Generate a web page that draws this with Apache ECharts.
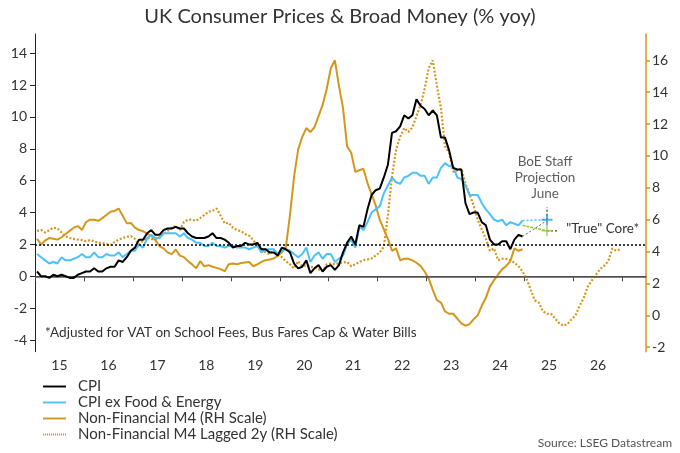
<!DOCTYPE html>
<html>
<head>
<meta charset="utf-8">
<script src="https://cdn.jsdelivr.net/npm/echarts@6/dist/echarts.min.js"></script>
<style>html,body{margin:0;padding:0;background:#fff}#c{width:680px;height:453px}</style>
</head>
<body>
<div id="c"></div>
<script>
// ---- DATA (monthly, % yoy) ----
// CPI, Jan 2015 - Dec 2024
const cpi = [
 0.3,0.0,0.0,-0.1,0.1,0.0,0.1,0.0,-0.1,-0.1,0.1,0.2,
 0.3,0.3,0.5,0.3,0.3,0.5,0.6,0.6,1.0,0.9,1.2,1.6,
 1.8,2.3,2.3,2.7,2.9,2.6,2.6,2.9,3.0,3.0,3.1,3.0,
 3.0,2.7,2.5,2.4,2.4,2.4,2.5,2.7,2.4,2.4,2.3,2.1,
 1.8,1.9,1.9,2.1,2.0,2.0,2.1,1.7,1.7,1.5,1.5,1.3,
 1.8,1.7,1.5,0.8,0.5,0.6,1.0,0.2,0.5,0.7,0.3,0.6,
 0.7,0.4,0.7,1.5,2.1,2.5,2.0,3.2,3.1,4.2,5.1,5.4,
 5.5,6.2,7.0,9.0,9.1,9.4,10.1,9.9,10.1,11.1,10.7,10.5,
 10.1,10.4,10.1,8.7,8.7,7.9,6.8,6.7,6.7,4.6,3.9,4.0,
 4.0,3.4,3.2,2.3,2.0,2.0,2.2,2.2,1.7,2.3,2.6,2.5
];
// CPI ex Food & Energy, Jan 2015 - Dec 2024
const cpiCore = [
 1.4,1.2,1.0,0.8,0.9,0.8,1.2,1.0,1.0,1.1,1.2,1.4,
 1.2,1.2,1.5,1.2,1.2,1.4,1.3,1.3,1.5,1.2,1.4,1.6,
 1.6,2.0,1.8,2.4,2.6,2.4,2.4,2.7,2.7,2.7,2.7,2.5,
 2.7,2.4,2.3,2.1,2.1,1.9,1.9,2.1,1.9,1.9,1.8,1.9,
 1.9,1.8,1.8,1.8,1.7,1.8,1.9,1.5,1.7,1.7,1.7,1.4,
 1.6,1.7,1.6,1.4,1.2,1.4,1.8,0.9,1.3,1.5,1.1,1.4,
 1.4,0.9,1.1,1.3,2.0,2.3,1.8,3.1,2.9,3.4,4.0,4.2,
 4.4,5.2,5.7,6.2,5.9,5.8,6.2,6.3,6.5,6.5,6.3,6.3,
 5.8,6.2,6.2,6.8,7.1,6.9,6.9,6.2,6.1,5.7,5.1,5.1,
 5.1,4.6,4.2,3.9,3.55,3.45,3.55,3.2,3.4,3.3,3.2,3.5
];
// Non-Financial M4, Jan 2013 - Dec 2014 (visible only through the 2y lag)
const m4Early = [
 5.3,5.35,5.2,5.35,5.5,5.45,5.2,4.95,4.85,4.8,4.75,4.72,
 4.65,4.72,4.65,4.55,4.55,4.47,4.42,4.6,4.75,4.85,4.93,4.97
];
// Non-Financial M4, Jan 2015 - Dec 2024
const m4 = [
 4.8,4.45,4.7,4.85,4.8,4.75,4.9,5.1,5.3,5.5,5.6,5.35,
 5.85,6.0,6.0,5.93,6.1,6.3,6.5,6.55,6.7,6.25,5.77,5.8,
 5.5,5.35,5.28,5.1,5.0,4.72,4.35,4.2,3.95,3.84,4.13,3.75,
 3.65,3.4,3.2,2.95,3.4,3.08,3.15,3.05,2.98,2.9,2.77,3.2,
 3.25,3.2,3.28,3.32,3.35,3.08,3.2,3.35,3.46,3.5,3.57,3.75,
 3.95,4.3,6.3,8.7,10.4,11.2,11.75,11.5,11.8,12.5,13.2,14.2,
 15.5,16.0,14.4,13.0,10.6,10.2,9.0,9.1,9.2,8.3,7.6,6.9,
 6.0,5.4,4.8,4.05,4.2,3.46,3.55,3.55,3.45,3.3,3.1,2.75,
 2.3,1.6,0.95,0.8,0.25,0.1,0.1,-0.2,-0.5,-0.65,-0.55,-0.25,
 0.0,0.6,1.1,1.8,2.2,2.55,2.9,3.1,3.4,4.2,4.05,4.15
];
// BoE staff projection for June 2025 (from the Dec 2024 values)
const projCpi = [2.5, 3.5];
const projCore = [3.5, 3.55];
const projTrueCore = [3.2, 2.85];

const xYearLabels = ['15','16','17','18','19','20','21','22','23','24','25','26'];
const leftTicks = [-4,-2,0,2,4,6,8,10,12,14];
const rightTicks = [-2,0,2,4,6,8,10,12,14,16];

// ---- helpers ----
const START = 2015;
const mx = (startYear, i) => startYear + (i + 0.5) / 12;
const cpiData = cpi.map((v, i) => [mx(START, i), v]);
const coreData = cpiCore.map((v, i) => [mx(START, i), v]);
const m4Data = m4.map((v, i) => [mx(START, i), v]);
const m4All = m4Early.concat(m4);
const m4LagData = m4All.map((v, i) => [mx(START, i), v]);
const lastX = mx(START, cpi.length - 1);
const projX = 2025 + 5.5 / 12;

const FONT = 'Lato';
const TXT = '#333';
const ORANGE = '#d4971b';
const BLUE = '#4cc1fb';
const GREEN = '#95c93d';
const PLUS = 'path://M0,5 L10,5 M5,0 L5,10';
const ICON_SOLID = 'path://M0,0H24V2H0Z';
let dots = '';
for (let k = 0; k < 12; k++) dots += 'M' + (2 * k) + ',0h1.1v2h-1.1Z';
const ICON_DOTTED = 'path://' + dots;

const chart = echarts.init(document.getElementById('c'), null, {renderer: 'canvas'});
const option = {
  animation: false,
  backgroundColor: '#fff',
  textStyle: {fontFamily: FONT, color: TXT},
  title: {
    text: 'UK Consumer Prices & Broad Money (% yoy)',
    left: 'center', top: 2,
    textStyle: {fontFamily: FONT, fontSize: 20, fontWeight: 'normal', color: TXT}
  },
  grid: {left: 35, right: 34, top: 34, bottom: 101.3, containLabel: false},
  legend: {
    orient: 'vertical', left: 38, top: 374, itemGap: 1,
    itemWidth: 23, itemHeight: 2,
    data: [
      {name: 'CPI', icon: ICON_SOLID},
      {name: 'CPI ex Food & Energy', icon: ICON_SOLID},
      {name: 'Non-Financial M4 (RH Scale)', icon: ICON_SOLID},
      {name: 'Non-Financial M4 Lagged 2y (RH Scale)', icon: ICON_DOTTED}
    ],
    textStyle: {fontFamily: FONT, fontSize: 15, lineHeight: 15, color: TXT, padding: [0,0,0,7]}
  },
  xAxis: {
    type: 'value', min: 2015, max: 2027.48,
    splitLine: {show: false},
    axisLine: {lineStyle: {color: '#444', width: 1}},
    axisTick: {show: true, length: 5, lineStyle: {color: '#444'},
      customValues: [2015,2016,2017,2018,2019,2020,2021,2022,2023,2024,2025,2026,2027]},
    axisLabel: {fontFamily: FONT, fontSize: 14, color: TXT, margin: 7,
      customValues: xYearLabels.map((s, i) => START + i + 0.5),
      formatter: v => xYearLabels[Math.floor(v) - START]}
  },
  yAxis: [
    {
      type: 'value', min: -4.73, max: 15.2, position: 'left',
      splitLine: {show: false},
      axisLine: {show: true, lineStyle: {color: '#222', width: 1}},
      axisTick: {show: true, length: 5, lineStyle: {color: '#222'}, customValues: leftTicks},
      axisLabel: {fontFamily: FONT, fontSize: 14, color: TXT, margin: 8, customValues: leftTicks}
    },
    {
      type: 'value', min: -2.28, max: 17.65, position: 'right',
      splitLine: {show: false},
      axisLine: {show: true, lineStyle: {color: ORANGE, width: 1.5}},
      axisTick: {show: true, length: 4, lineStyle: {color: ORANGE, width: 1.5}, customValues: rightTicks},
      axisLabel: {fontFamily: FONT, fontSize: 14, color: TXT, margin: 6, customValues: rightTicks}
    }
  ],
  series: [
    {
      name: 'Non-Financial M4 Lagged 2y (RH Scale)', type: 'line', yAxisIndex: 1,
      data: m4LagData, showSymbol: false, symbol: 'none', z: 2,
      lineStyle: {color: ORANGE, width: 2.2, type: [2, 1.8]}, itemStyle: {color: ORANGE}
    },
    {
      name: 'Non-Financial M4 (RH Scale)', type: 'line', yAxisIndex: 1,
      data: m4Data, showSymbol: false, symbol: 'none', z: 3,
      lineStyle: {color: ORANGE, width: 2}, itemStyle: {color: ORANGE}
    },
    {
      name: 'CPI ex Food & Energy', type: 'line', yAxisIndex: 0,
      data: coreData, showSymbol: false, symbol: 'none', z: 4,
      lineStyle: {color: BLUE, width: 2}, itemStyle: {color: BLUE}
    },
    {
      name: 'CPI', type: 'line', yAxisIndex: 0,
      data: cpiData, showSymbol: false, symbol: 'none', z: 5,
      lineStyle: {color: '#000', width: 2}, itemStyle: {color: '#000'},
      markLine: {
        silent: true, symbol: 'none', label: {show: false},
        data: [
          {yAxis: 0, lineStyle: {color: '#555', width: 1.5, type: 'solid'}},
          {yAxis: 2, lineStyle: {color: '#000', width: 1.5, type: [2, 2]}}
        ]
      }
    },
    {
      name: 'projCpi', type: 'line', yAxisIndex: 0, symbol: 'none', z: 6,
      data: [[lastX, projCpi[0]], [projX, projCpi[1]]],
      lineStyle: {color: '#666', width: 1, type: [2, 2]}
    },
    {
      name: 'projCore', type: 'line', yAxisIndex: 0, symbol: 'none', z: 6,
      data: [[lastX, projCore[0]], [projX, projCore[1]]],
      lineStyle: {color: BLUE, width: 1.5, type: [2, 2]}
    },
    {
      name: 'projTrueCore', type: 'line', yAxisIndex: 0, symbol: 'none', z: 6,
      data: [[lastX, projTrueCore[0]], [projX, projTrueCore[1]]],
      lineStyle: {color: GREEN, width: 1.5, type: [3, 1]}
    },
    {
      name: 'projVert', type: 'line', yAxisIndex: 0, symbol: 'none', z: 6,
      data: [[projX, projCore[1]], [projX, 4.33]],
      lineStyle: {color: '#000', width: 1, type: [2, 2]}
    },
    {
      name: 'trueCoreLead', type: 'line', yAxisIndex: 0, symbol: 'none', z: 6,
      data: [[projX, projTrueCore[1]], [2025.69, projTrueCore[1]]],
      lineStyle: {color: '#000', width: 1, type: [2, 2]},
      endLabel: {show: true, formatter: '"True" Core*', distance: 8,
        fontFamily: FONT, fontSize: 13.5, color: TXT, offset: [0, -2]}
    },
    {
      name: 'projMarkers', type: 'scatter', yAxisIndex: 0, z: 7,
      symbol: PLUS, symbolSize: 11,
      data: [
        {value: [projX, projCore[1]], itemStyle: {color: 'none', borderColor: '#2a9de0', borderWidth: 2}},
        {value: [projX, projTrueCore[1]], itemStyle: {color: 'none', borderColor: GREEN, borderWidth: 1.5}}
      ]
    },
    {
      name: 'boeLabel', type: 'scatter', yAxisIndex: 0, z: 7,
      symbol: 'circle', symbolSize: 1, itemStyle: {color: 'rgba(0,0,0,0)'},
      data: [[projX - 0.04, 4.33]],
      label: {show: true, position: 'top', distance: 5, formatter: 'BoE Staff\nProjection\nJune',
        fontFamily: FONT, fontSize: 13.5, lineHeight: 16, color: TXT, align: 'center'}
    }
  ],
  graphic: [
    {type: 'text', left: 45, top: 326,
      style: {text: '*Adjusted for VAT on School Fees, Bus Fares Cap & Water Bills',
        font: '13.6px ' + FONT, fill: TXT}},
    {type: 'text', right: 8, bottom: 4,
      style: {text: 'Source: LSEG Datastream', font: '12px ' + FONT, fill: '#555'}}
  ]
};
chart.setOption(option);
</script>
</body>
</html>
